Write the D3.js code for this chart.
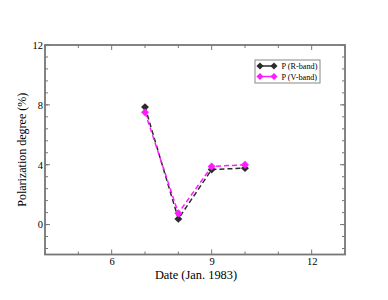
<!DOCTYPE html>
<html><head><meta charset="utf-8">
<script src="https://cdn.jsdelivr.net/npm/d3@7"></script>
<style>body{margin:0;background:#fff}svg{display:block}</style>
</head><body><svg id="c" width="388" height="300"></svg>
<script>
const dates = [7, 8, 9, 10];
const pR = [7.85, 0.38, 3.68, 3.77];
const pV = [7.5, 0.76, 3.88, 4.0];
const seriesNames = ["P (R-band)", "P (V-band)"];
const xTicks = [6, 9, 12];
const yTicks = [0, 4, 8, 12];

function pickFont(cands) {
  const ctx = document.createElement("canvas").getContext("2d");
  const s = "Polarization degree (%) 1983";
  ctx.font = "40px monospace"; const wm = ctx.measureText(s).width;
  for (const c of cands) {
    ctx.font = `40px "${c}", monospace`;
    if (Math.abs(ctx.measureText(s).width - wm) > 1) return `"${c}", serif`;
  }
  return "serif";
}
const FONT = pickFont(["Liberation Serif", "Times New Roman", "Tinos", "Nimbus Roman", "DejaVu Serif"]);

const svg = d3.select("#c").style("font-family", FONT);
const L = 45, R = 345, T = 45, B = 254.5;
const x = d3.scaleLinear().domain([4, 13]).range([L, R]);
const y = d3.scaleLinear().domain([-2, 12]).range([B, T]);
const axisCol = "#777";

const g = svg.append("g");
d3.range(4, 13.01, 1).forEach(v => {
  const len = xTicks.includes(v) ? 5 : 3;
  g.append("line").attr("x1", x(v)).attr("x2", x(v)).attr("y1", B).attr("y2", B - len).attr("stroke", axisCol).attr("stroke-width", 1);
  g.append("line").attr("x1", x(v)).attr("x2", x(v)).attr("y1", T).attr("y2", T + len).attr("stroke", axisCol).attr("stroke-width", 1);
});
const yMinorVals = [];
for (let k = 0; k <= 17; k++) { const v = -1.6 + 0.8 * k; if (v < 12) yMinorVals.push(v); }
yMinorVals.forEach(v => {
  g.append("line").attr("x1", L).attr("x2", L + 3).attr("y1", y(v)).attr("y2", y(v)).attr("stroke", axisCol).attr("stroke-width", 1);
  g.append("line").attr("x1", R).attr("x2", R - 3).attr("y1", y(v)).attr("y2", y(v)).attr("stroke", axisCol).attr("stroke-width", 1);
});
yTicks.forEach(v => {
  g.append("line").attr("x1", L).attr("x2", L + 5).attr("y1", y(v)).attr("y2", y(v)).attr("stroke", axisCol).attr("stroke-width", 1);
  g.append("line").attr("x1", R).attr("x2", R - 5).attr("y1", y(v)).attr("y2", y(v)).attr("stroke", axisCol).attr("stroke-width", 1);
});

svg.append("rect").attr("x", L).attr("y", T).attr("width", R - L).attr("height", B - T)
  .attr("fill", "none").attr("stroke", axisCol).attr("stroke-width", 1.8);

const xAxis = svg.append("g").attr("transform", `translate(0,${B})`)
  .call(d3.axisBottom(x).tickValues(xTicks).tickSize(0).tickPadding(3));
xAxis.attr("font-family", FONT);
xAxis.select(".domain").remove();
xAxis.selectAll("text").attr("font-size", 10.5).attr("fill", "#000");
const yAxis = svg.append("g").attr("transform", `translate(${L},0)`)
  .call(d3.axisLeft(y).tickValues(yTicks).tickSize(0).tickPadding(2));
yAxis.attr("font-family", FONT);
yAxis.select(".domain").remove();
yAxis.selectAll("text").attr("font-size", 10.5).attr("fill", "#000");

svg.append("text").attr("x", 196).attr("y", 278.5).attr("text-anchor", "middle")
  .attr("font-size", 12.4).attr("font-family", FONT).text("Date (Jan. 1983)");
svg.append("text").attr("transform", `translate(26,${(T + B) / 2}) rotate(-90)`).attr("text-anchor", "middle")
  .attr("font-size", 12).attr("font-family", FONT).text("Polarization degree (%)");

const diamond = d3.symbol().type(d3.symbolDiamond2).size(40);
const line = d3.line().x((d, i) => x(dates[i])).y(d => y(d));
const series = [
  { vals: pR, col: "#2b2b2b", name: seriesNames[0] },
  { vals: pV, col: "#ff1aff", name: seriesNames[1] }
];
series.forEach(s => {
  svg.append("path").attr("d", line(s.vals)).attr("fill", "none").attr("stroke", s.col)
    .attr("stroke-width", 1.5).attr("stroke-dasharray", "5,3");
  svg.selectAll(null).data(s.vals).enter().append("path")
    .attr("d", diamond).attr("transform", (d, i) => `translate(${x(dates[i])},${y(d)})`)
    .attr("fill", s.col);
});

const lg = svg.append("g");
lg.append("rect").attr("x", 255).attr("y", 60).attr("width", 65).attr("height", 23)
  .attr("fill", "#fff").attr("stroke", "#888").attr("stroke-width", 1);
series.forEach((s, i) => {
  const yy = 66 + i * 10.5;
  lg.append("line").attr("x1", 260).attr("x2", 274).attr("y1", yy).attr("y2", yy).attr("stroke", s.col).attr("stroke-width", 1.5);
  [260, 274].forEach(xx => lg.append("path").attr("d", d3.symbol().type(d3.symbolDiamond2).size(32)).attr("transform", `translate(${xx},${yy})`).attr("fill", s.col));
  lg.append("text").attr("x", 281.5).attr("y", yy + 3).attr("font-size", 8.2).attr("font-family", FONT).text(s.name);
});
</script></body></html>
